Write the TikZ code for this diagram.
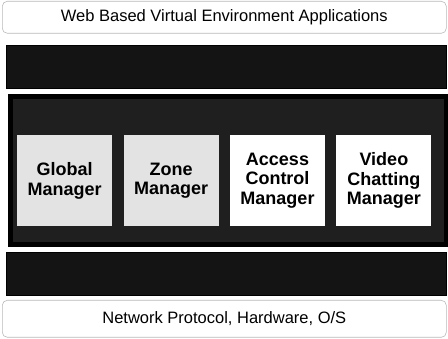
\documentclass[tikz,border=0pt]{standalone}
\usepackage{fontspec}
\setmainfont{Liberation Sans}
\usetikzlibrary{positioning}

\begin{document}
\begin{tikzpicture}[x=1pt,y=-1pt,node distance=11pt,
    layer/.style={draw=gray!55,line width=0.6pt,rounded corners=5pt,
      minimum width=444pt,minimum height=32pt,inner sep=0pt,anchor=north west,
      font=\fontsize{16.5}{19}\selectfont},
    band/.style={fill=black!92,draw=black,inner sep=0pt,anchor=north west,
      minimum width=440pt,minimum height=43pt},
    mgr/.style={fill=#1,draw=none,inner sep=0pt,anchor=north west,
      minimum width=95pt,minimum height=91pt,align=center,
      font=\fontsize{18}{19.5}\selectfont\bfseries},
    mgr/.default=white]

  \useasboundingbox (0,0) rectangle (448,339);

  \node[layer] (apps) at (2,1) {Web Based Virtual Environment Applications};
  \node[band] (upper) at (6,45) {};

  \node[band,draw=black,line width=5pt,fill=black!88,
    minimum width=436pt,minimum height=148pt] (core) at (7.5,94.5) {};
  \node[mgr=gray!22] (global) at (17,135) {Global\\Manager};
  \node[mgr=gray!22] (zone) [right=of global] {Zone\\Manager};
  \node[mgr] (access) [right=of zone] {Access\\Control\\Manager};
  \node[mgr] (video) [right=of access] {Video\\Chatting\\Manager};

  \node[band] (lower) at (6,252) {};
  \node[layer,minimum height=37pt] (net) at (2,300) {Network Protocol, Hardware, O/S};

\end{tikzpicture}
\end{document}
